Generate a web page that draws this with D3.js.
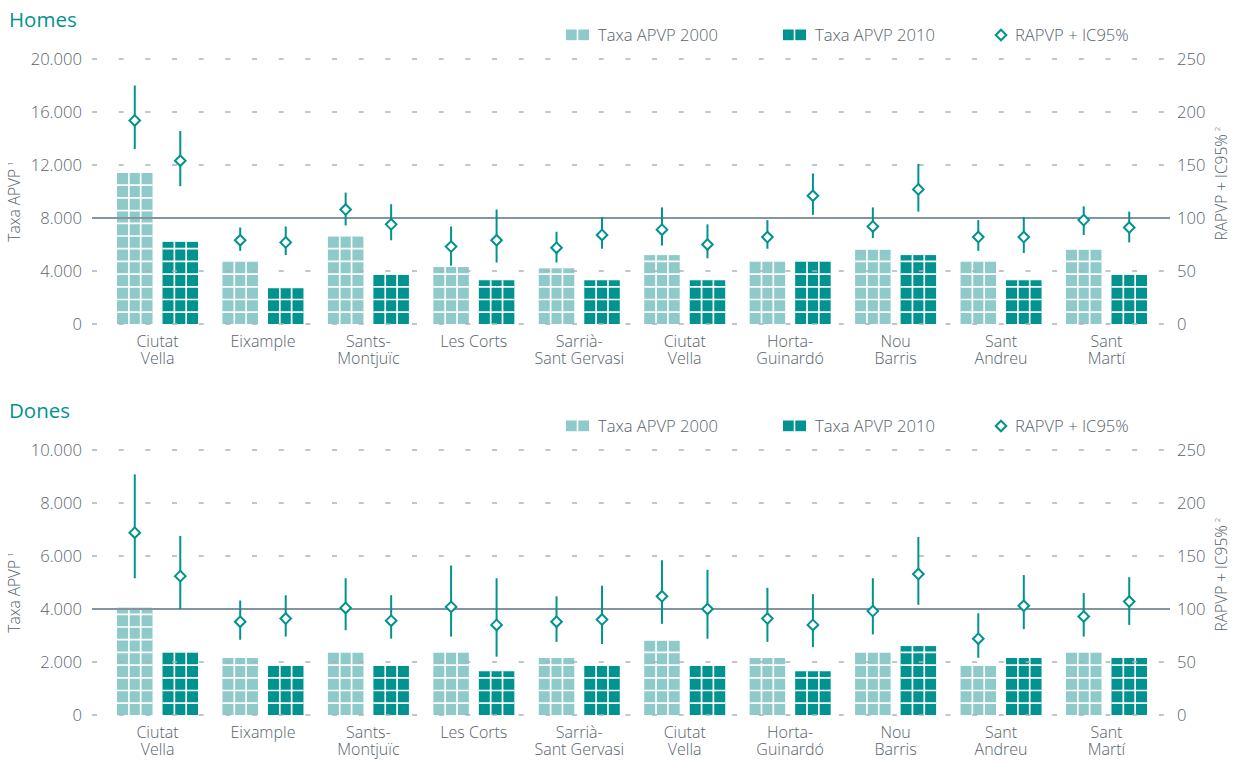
<!DOCTYPE html>
<html>
<head>
<meta charset="utf-8">
<script src="https://cdn.jsdelivr.net/npm/d3@7"></script>
<style>
  body { margin: 0; background: #ffffff; }
  svg { display: block; font-family: "Open Sans", "Noto Sans", sans-serif; }
</style>
</head>
<body>
<svg id="chart" width="1237" height="764"></svg>
<script>
// ---------- DATA ----------
const categories = ["Ciutat|Vella", "Eixample", "Sants-|Montjuïc", "Les Corts", "Sarrià-|Sant Gervasi",
                    "Ciutat|Vella", "Horta-|Guinardó", "Nou|Barris", "Sant|Andreu", "Sant|Martí"];

const legendLabels = ["Taxa APVP 2000", "Taxa APVP 2010", "RAPVP + IC95%"];
const rightTicks = [0, 50, 100, 150, 200, 250];
const rightTickLabels = ["0", "50", "100", "150", "200", "250"];

// Homes
const homesTicks = [0, 4000, 8000, 12000, 16000, 20000];
const homesTickLabels = ["0", "4.000", "8.000", "12.000", "16.000", "20.000"];
const homes2000 = [11400, 4700, 6600, 4300, 4200, 5200, 4700, 5600, 4700, 5600];
const homes2010 = [6200, 2700, 3700, 3300, 3300, 3300, 4700, 5200, 3300, 3700];
const homesRapvp2000 = [192, 79, 108, 73, 72, 89, 82, 92, 82, 98];
const homesLow2000   = [165, 69, 93, 55, 58, 74, 71, 81, 69, 84];
const homesHigh2000  = [225, 91, 124, 92, 87, 110, 98, 110, 98, 111];
const homesRapvp2010 = [154, 77, 94, 79, 84, 75, 121, 127, 82, 91];
const homesLow2010   = [130, 65, 79, 58, 71, 62, 103, 106, 67, 77];
const homesHigh2010  = [182, 92, 113, 108, 101, 94, 142, 151, 101, 106];

// Dones
const donesTicks = [0, 2000, 4000, 6000, 8000, 10000];
const donesTickLabels = ["0", "2.000", "4.000", "6.000", "8.000", "10.000"];
const dones2000 = [4050, 2150, 2350, 2350, 2150, 2800, 2150, 2350, 1850, 2350];
const dones2010 = [2350, 1850, 1850, 1650, 1850, 1850, 1650, 2600, 2150, 2150];
const donesRapvp2000 = [172, 88, 101, 102, 88, 112, 91, 98, 72, 93];
const donesLow2000   = [129, 71, 80, 74, 69, 86, 69, 76, 54, 74];
const donesHigh2000  = [227, 108, 129, 141, 112, 146, 120, 129, 96, 115];
const donesRapvp2010 = [131, 91, 89, 85, 90, 100, 85, 133, 103, 107];
const donesLow2010   = [100, 74, 72, 55, 67, 72, 64, 104, 81, 85];
const donesHigh2010  = [169, 113, 113, 129, 122, 137, 114, 168, 132, 130];

// ---------- STYLE ----------
const C_LIGHT = "#8ecac9";
const C_DARK = "#00938f";
const C_TEAL = "#00938f";
const C_TEXT = "#56636c";
const C_GRID = "#aab3b8";
const C_REF = "#8595a0";
const FW = 300;

const svg = d3.select("#chart");

const panels = [
  { title: "Homes", offset: 0, ticks: homesTicks, tickLabels: homesTickLabels,
    v2000: homes2000, v2010: homes2010,
    r2000: homesRapvp2000, lo2000: homesLow2000, hi2000: homesHigh2000,
    r2010: homesRapvp2010, lo2010: homesLow2010, hi2010: homesHigh2010 },
  { title: "Dones", offset: 391, ticks: donesTicks, tickLabels: donesTickLabels,
    v2000: dones2000, v2010: dones2010,
    r2000: donesRapvp2000, lo2000: donesLow2000, hi2000: donesHigh2000,
    r2010: donesRapvp2010, lo2010: donesLow2010, hi2010: donesHigh2010 }
];

const x = d3.scaleBand().domain(d3.range(categories.length)).range([104.8, 1159.2]);
const xs = d3.scaleBand().domain([0, 1])
  .range([x.bandwidth() / 2 - 40.5, x.bandwidth() / 2 + 40.5]).paddingInner(0.22);

const GRID_X0 = 92, GRID_X1 = 1170;

panels.forEach(p => {
  const g = svg.append("g").attr("transform", `translate(0,${p.offset})`);
  const top = 59, bottom = 324;
  const yL = d3.scaleLinear().domain([0, d3.max(p.ticks)]).range([bottom, top]);
  const yR = d3.scaleLinear().domain([0, 250]).range([bottom, top]);

  // Title
  g.append("text").attr("x", 9).attr("y", 27)
    .attr("fill", C_TEAL).attr("font-size", 20.5).attr("font-weight", 500)
    .text(p.title);

  // Legend
  const lg = g.append("g").attr("font-size", 16.6).attr("font-weight", FW).attr("fill", C_TEXT);
  const legendItems = [
    { x: 566, color: C_LIGHT, label: legendLabels[0], type: "sq" },
    { x: 783, color: C_DARK, label: legendLabels[1], type: "sq" },
    { x: 995, color: C_TEAL, label: legendLabels[2], type: "dia" }
  ];
  legendItems.forEach(it => {
    if (it.type === "sq") {
      [0, 12.3].forEach(dx => lg.append("rect").attr("x", it.x + dx).attr("y", 29.5)
        .attr("width", 10.7).attr("height", 10.7).attr("fill", it.color));
      lg.append("text").attr("x", it.x + 32).attr("y", 41).text(it.label);
    } else {
      lg.append("path").attr("transform", `translate(${it.x + 6},35)`)
        .attr("d", d3.symbol(d3.symbolDiamond2, 72)())
        .attr("fill", "#fff").attr("stroke", it.color).attr("stroke-width", 2);
      lg.append("text").attr("x", it.x + 20).attr("y", 41).text(it.label);
    }
  });

  // Bars
  const barData = [];
  categories.forEach((c, i) => {
    barData.push({ i, k: 0, v: p.v2000[i], color: C_LIGHT });
    barData.push({ i, k: 1, v: p.v2010[i], color: C_DARK });
  });
  const bars = g.append("g");
  barData.forEach(d => {
    const bx = x(d.i) + xs(d.k), bw = xs.bandwidth();
    const by = yL(d.v), bh = bottom - by;
    bars.append("rect").attr("x", bx).attr("y", by).attr("width", bw).attr("height", bh).attr("fill", d.color);
    // white tile grid
    [1, 2].forEach(j => bars.append("line")
      .attr("x1", bx + bw * j / 3).attr("x2", bx + bw * j / 3)
      .attr("y1", by).attr("y2", bottom)
      .attr("stroke", "#fff").attr("stroke-width", 1.7));
    d3.range(bottom - 11.8, by, -12.7).forEach(ly => bars.append("line")
      .attr("x1", bx).attr("x2", bx + bw).attr("y1", ly).attr("y2", ly)
      .attr("stroke", "#fff").attr("stroke-width", 1.7));
  });

  // Gridlines (drawn above bars)
  const grid = g.append("g");
  p.ticks.forEach((t, k) => {
    const ref = (k === 2);
    grid.append("line").attr("x1", GRID_X0).attr("x2", GRID_X1)
      .attr("y1", yL(t)).attr("y2", yL(t))
      .attr("stroke", ref ? C_REF : C_GRID)
      .attr("stroke-width", ref ? 2 : 1.5)
      .attr("stroke-dasharray", ref ? null : "5,21.67");
  });

  // Axis labels
  const ax = g.append("g").attr("font-size", 16.6).attr("font-weight", FW).attr("fill", C_TEXT);
  p.ticks.forEach((t, k) => ax.append("text").attr("x", 82).attr("y", yL(t))
    .attr("dy", "0.36em").attr("text-anchor", "end").text(p.tickLabels[k]));
  rightTicks.forEach((t, k) => ax.append("text").attr("x", 1177).attr("y", yR(t))
    .attr("dy", "0.36em").attr("text-anchor", "start").text(rightTickLabels[k]));

  // Axis titles
  const lt = g.append("text").attr("transform", `translate(20,${(top + bottom) / 2 + 10}) rotate(-90)`)
    .attr("text-anchor", "middle").attr("font-size", 15.5).attr("font-weight", FW).attr("fill", C_TEXT);
  lt.append("tspan").text("Taxa APVP");
  lt.append("tspan").attr("font-size", 8).attr("dy", -7).attr("dx", 3).text("1");
  const rt = g.append("text").attr("transform", `translate(1227,${(top + bottom) / 2 - 8}) rotate(-90)`)
    .attr("text-anchor", "middle").attr("font-size", 15.5).attr("font-weight", FW).attr("fill", C_TEXT);
  rt.append("tspan").text("RAPVP + IC95%");
  rt.append("tspan").attr("font-size", 8).attr("dy", -7).attr("dx", 3).text("2");

  // Category labels (one text per line)
  const cl = g.append("g").attr("font-size", 16).attr("font-weight", FW)
    .attr("fill", C_TEXT).attr("text-anchor", "middle");
  categories.forEach((c, i) => {
    c.split("|").forEach((ln, j) => cl.append("text")
      .attr("x", x(i) + x.bandwidth() / 2).attr("y", 347 + j * 17).text(ln));
  });

  // RAPVP points with CI
  const pts = [];
  categories.forEach((c, i) => {
    pts.push({ i, k: 0, v: p.r2000[i], lo: p.lo2000[i], hi: p.hi2000[i] });
    pts.push({ i, k: 1, v: p.r2010[i], lo: p.lo2010[i], hi: p.hi2010[i] });
  });
  const pg = g.append("g");
  pts.forEach(d => {
    const cx = x(d.i) + xs(d.k) + xs.bandwidth() / 2;
    pg.append("line").attr("x1", cx).attr("x2", cx).attr("y1", yR(d.hi)).attr("y2", yR(d.lo))
      .attr("stroke", C_TEAL).attr("stroke-width", 2);
    pg.append("path").attr("transform", `translate(${cx},${yR(d.v)})`)
      .attr("d", d3.symbol(d3.symbolDiamond2, 72)())
      .attr("fill", "#fff").attr("stroke", C_TEAL).attr("stroke-width", 2);
  });
});
</script>
</body>
</html>
